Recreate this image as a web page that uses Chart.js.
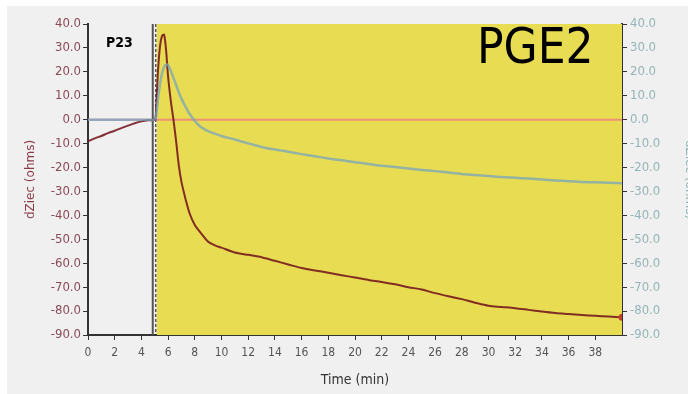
<!DOCTYPE html>
<html>
<head>
<meta charset="utf-8">
<script src="https://cdn.jsdelivr.net/npm/chart.js@4"></script>
<style>
  body { margin: 0; background: #fff; overflow: hidden; }
  #wrap { width: 688px; height: 394px; overflow: hidden; }
</style>
</head>
<body>
<div id="wrap"><canvas id="myChart" width="700" height="394"></canvas></div>
<script>
// temps (min)
const times = [0, 0.5, 1, 1.5, 2, 2.5, 3, 3.5, 4, 4.5, 5, 5.1, 5.25, 5.4, 5.55, 5.7, 5.85, 6, 6.2, 6.4,
  6.6, 6.8, 7, 7.3, 7.6, 8, 8.4, 9, 9.5, 10, 11, 12, 13, 14, 15, 16, 17, 18, 19, 20,
  21, 22, 23, 24, 25, 26, 27, 28, 29, 30, 31, 32, 33, 34, 35, 36, 37, 38, 39, 40];

// dZiec courbe rouge (axe gauche)
const redValues = [-9, -7.8, -6.8, -5.6, -4.6, -3.5, -2.5, -1.5, -0.7, -0.2, 0, 5, 21, 31, 35, 35.5, 29, 18, 8, 0,
  -9, -19, -26, -33, -39, -44, -47, -51, -52.5, -53.5, -55.5, -56.5, -57.5, -59, -60.5, -62, -63, -64, -65, -66,
  -67, -67.8, -68.8, -70, -71, -72.5, -73.8, -75, -76.5, -77.8, -78.3, -78.8, -79.5, -80.2, -80.8, -81.2, -81.6, -82, -82.3, -82.6];

// dZiec courbe grise (axe droit)
const tealValues = [0, 0, 0, 0, 0, 0, 0, 0, 0, 0, 0, 1.5, 9, 15, 19.5, 22, 23, 22.8, 20.5, 17.5,
  14.5, 11.5, 8.8, 5.5, 2.5, -0.5, -2.8, -4.8, -5.8, -6.8, -8.3, -9.9, -11.4, -12.5, -13.4, -14.4, -15.3, -16.2, -17, -17.8,
  -18.5, -19.3, -19.8, -20.4, -21, -21.5, -22.1, -22.7, -23.1, -23.5, -24, -24.3, -24.6, -25, -25.4, -25.7, -26, -26.2, -26.4, -26.6];

const xTicks = [0, 2, 4, 6, 8, 10, 12, 14, 16, 18, 20, 22, 24, 26, 28, 30, 32, 34, 36, 38];
const yTicks = [40, 30, 20, 10, 0, -10, -20, -30, -40, -50, -60, -70, -80, -90];

const bandStart = 5.15;   // début zone jaune
const solidMark = 4.85;   // trait plein
const dashedMark = 5.08;  // trait pointillé

const narrow = "'Liberation Sans Narrow', 'DejaVu Sans Condensed', 'Liberation Sans', sans-serif";

const toXY = (vals) => vals.map((v, i) => ({ x: times[i], y: v }));

const backdrop = {
  id: "backdrop",
  beforeDraw(chart) {
    const { ctx, width, height } = chart;
    ctx.save();
    ctx.fillStyle = "#ffffff";
    ctx.fillRect(0, 0, width, height);
    ctx.fillStyle = "#f0f0f0";
    ctx.fillRect(7, 6, width - 7, height - 6);
    ctx.restore();
  },
  beforeDatasetsDraw(chart) {
    const { ctx, chartArea: a, scales } = chart;
    const x = scales.x;
    const y = scales.y;
    ctx.save();
    const xb = x.getPixelForValue(bandStart);
    ctx.fillStyle = "#e8dc52";
    ctx.fillRect(xb, a.top, a.right - xb, a.bottom - a.top);

    // ligne du zéro
    const y0 = y.getPixelForValue(0);
    ctx.strokeStyle = "rgba(238, 120, 130, 0.75)";
    ctx.lineWidth = 2;
    ctx.beginPath();
    ctx.moveTo(a.left, y0);
    ctx.lineTo(a.right, y0);
    ctx.stroke();

    // marqueurs verticaux
    const xs = x.getPixelForValue(solidMark);
    ctx.strokeStyle = "#555";
    ctx.lineWidth = 2;
    ctx.beginPath();
    ctx.moveTo(xs, a.top);
    ctx.lineTo(xs, a.bottom);
    ctx.stroke();

    const xd = x.getPixelForValue(dashedMark);
    ctx.strokeStyle = "#111";
    ctx.lineWidth = 1;
    ctx.setLineDash([3, 2]);
    ctx.beginPath();
    ctx.moveTo(xd, a.top);
    ctx.lineTo(xd, a.bottom);
    ctx.stroke();
    ctx.restore();
  },
  afterDraw(chart) {
    const { ctx } = chart;
    ctx.save();
    ctx.fillStyle = "#000";
    ctx.textBaseline = "alphabetic";
    ctx.font = "49px " + narrow;
    ctx.fillText("PGE2", 477, 63);
    ctx.font = "bold 14px " + narrow;
    ctx.fillText("P23", 106, 47);
    ctx.restore();
  },
};

const ctx = document.getElementById("myChart").getContext("2d");
new Chart(ctx, {
  type: "line",
  data: {
    datasets: [
      {
        label: "dZiec",
        data: toXY(tealValues),
        yAxisID: "y2",
        borderColor: "rgba(120, 165, 190, 0.75)",
        borderWidth: 2.5,
        pointRadius: 0,
        tension: 0.3,
      },
      {
        label: "dZiec",
        data: toXY(redValues),
        yAxisID: "y",
        borderColor: "rgba(115, 20, 30, 0.88)",
        borderWidth: 2,
        pointRadius: redValues.map((v, i) => (i === redValues.length - 1 ? 3.5 : 0)),
        pointBackgroundColor: "#c8402a",
        pointBorderWidth: 0,
        tension: 0.3,
      },
    ],
  },
  options: {
    responsive: false,
    animation: false,
    layout: { padding: { top: 24, left: 0, right: 0, bottom: 0 } },
    plugins: { legend: { display: false }, tooltip: { enabled: false } },
    scales: {
      x: {
        type: "linear",
        min: 0,
        max: 40,
        afterFit: (s) => { s.height = 59; },
        afterBuildTicks: (s) => { s.ticks = xTicks.map((v) => ({ value: v })); },
        grid: { drawOnChartArea: false, tickLength: 5, color: "#333", lineWidth: 1 },
        border: { color: "#333", width: 2 },
        ticks: { color: "#555", padding: 6, maxRotation: 0, font: { family: narrow, size: 12 } },
        title: {
          display: true,
          text: "Time (min)",
          color: "#333",
          font: { family: narrow, size: 14 },
          padding: { top: 0, bottom: 5 },
        },
      },
      y: {
        position: "left",
        min: -90,
        max: 40,
        afterFit: (s) => { s.width = 88; },
        afterBuildTicks: (s) => { s.ticks = yTicks.map((v) => ({ value: v })); },
        grid: { drawOnChartArea: false, tickLength: 5, color: "#333", lineWidth: 1 },
        border: { color: "#333", width: 2 },
        ticks: {
          color: "#8a4a58",
          padding: 2,
          font: { family: narrow, size: 13 },
          callback: (v) => v.toFixed(1),
        },
        title: {
          display: true,
          text: "dZiec (ohms)",
          color: "#8b3a4a",
          font: { family: "'DejaVu Sans', sans-serif", size: 12 },
          padding: { top: 24, bottom: 0 },
        },
      },
      y2: {
        position: "right",
        min: -90,
        max: 40,
        afterFit: (s) => { s.width = 78; },
        afterBuildTicks: (s) => { s.ticks = yTicks.map((v) => ({ value: v })); },
        grid: { drawOnChartArea: false, tickLength: 5, color: "#333", lineWidth: 1 },
        border: { color: "#333", width: 2 },
        ticks: {
          color: "#93b5b5",
          padding: 3,
          font: { family: narrow, size: 13 },
          callback: (v) => v.toFixed(1),
        },
        title: {
          display: true,
          text: "dZiec (ohms)",
          color: "#93b5b5",
          font: { family: "'DejaVu Sans', sans-serif", size: 12 },
          padding: { top: 4, bottom: 0 },
        },
      },
    },
  },
  plugins: [backdrop],
});
</script>
</body>
</html>
